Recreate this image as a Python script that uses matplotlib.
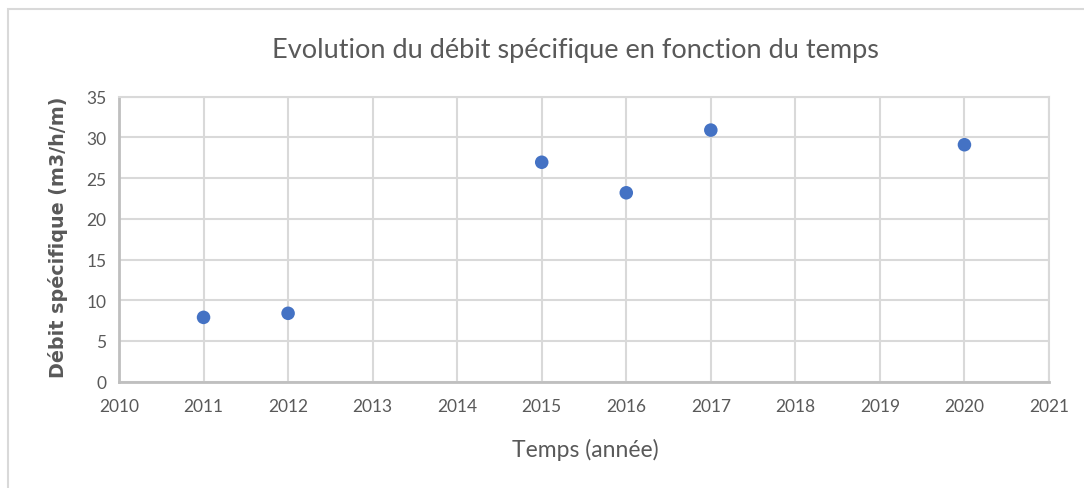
import matplotlib
matplotlib.use("Agg")
import matplotlib.pyplot as plt
from matplotlib.patches import Rectangle

years = [2011, 2012, 2015, 2016, 2017, 2020]
debit = [7.9, 8.4, 26.95, 23.2, 30.9, 29.1]
x_ticks = list(range(2010, 2022))
y_ticks = list(range(0, 36, 5))
title = "Evolution du débit spécifique en fonction du temps"
xlabel = "Temps (année)"
ylabel = "Débit spécifique (m3/h/m)"

W, H = 1084, 489
fig = plt.figure(figsize=(W / 100, H / 100), dpi=100)
fig.patch.set_facecolor("white")
fig.patches.append(Rectangle((8 / W, -0.1), 1.2, (H - 10) / H + 0.1, transform=fig.transFigure,
                             fill=False, edgecolor="#D9D9D9", linewidth=1.5))

ax = fig.add_axes([119 / W, (H - 382.7) / H, (1049 - 119) / W, (382.7 - 97.7) / H])
ax.scatter(years, debit, s=95, color="#4472C4", zorder=3, edgecolors="none")
ax.set_xlim(2010, 2021)
ax.set_ylim(0, 35)
ax.set_xticks(x_ticks)
ax.set_yticks(y_ticks)
ax.grid(True, color="#D9D9D9", linewidth=1.5)
ax.set_axisbelow(True)
for s in ["top", "right"]:
    ax.spines[s].set_color("#D9D9D9")
    ax.spines[s].set_linewidth(1.5)
for s in ["left", "bottom"]:
    ax.spines[s].set_color("#BFBFBF")
    ax.spines[s].set_linewidth(2)
ax.tick_params(length=0, pad=12, labelsize=12.5, labelcolor="#595959")
for lab in ax.get_xticklabels() + ax.get_yticklabels():
    lab.set_fontfamily("Lato")
ax.tick_params(axis="y", pad=9)

fig.text(575 / W, 1 - 51 / H, title, ha="center", va="center", fontsize=19.5,
         color="#595959", fontfamily="Lato")
fig.text(585 / W, 1 - 450 / H, xlabel, ha="center", va="center", fontsize=16.5,
         color="#595959", fontfamily="Lato")
fig.text(58 / W, 1 - 237 / H, ylabel, ha="center", va="center", fontsize=13.8,
         color="#595959", rotation=90, fontfamily="DejaVu Sans", fontweight="bold")

fig.savefig("out.png", dpi=100, facecolor="white")
